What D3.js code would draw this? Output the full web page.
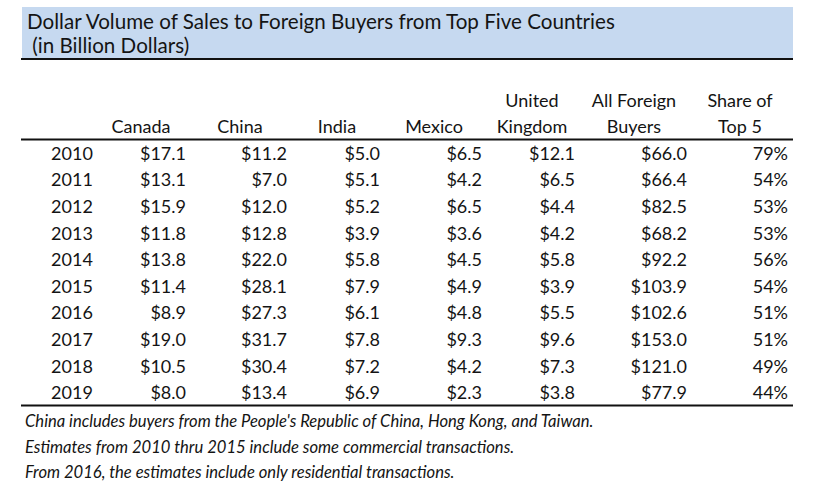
<!DOCTYPE html>
<html>
<head>
<meta charset="utf-8">
<script src="https://cdn.jsdelivr.net/npm/d3@7"></script>
<style>
  body { margin: 0; background: #fff; }
  svg { display: block; font-family: Lato, "Open Sans", sans-serif; }
</style>
</head>
<body>
<svg width="830" height="491"></svg>
<script>
// table data (billion dollars)
var years = [2010, 2011, 2012, 2013, 2014, 2015, 2016, 2017, 2018, 2019];
var canada = [17.1, 13.1, 15.9, 11.8, 13.8, 11.4, 8.9, 19.0, 10.5, 8.0];
var china = [11.2, 7.0, 12.0, 12.8, 22.0, 28.1, 27.3, 31.7, 30.4, 13.4];
var india = [5.0, 5.1, 5.2, 3.9, 5.8, 7.9, 6.1, 7.8, 7.2, 6.9];
var mexico = [6.5, 4.2, 6.5, 3.6, 4.5, 4.9, 4.8, 9.3, 4.2, 2.3];
var uk = [12.1, 6.5, 4.4, 4.2, 5.8, 3.9, 5.5, 9.6, 7.3, 3.8];
var allForeign = [66.0, 66.4, 82.5, 68.2, 92.2, 103.9, 102.6, 153.0, 121.0, 77.9];
var shareTop5 = [79, 54, 53, 53, 56, 54, 51, 51, 49, 44];

var headers = [
  ["Canada"], ["China"], ["India"], ["Mexico"],
  ["United", "Kingdom"], ["All Foreign", "Buyers"], ["Share of", "Top 5"]
];
var titleLines = ["Dollar Volume of Sales to Foreign Buyers from Top Five Countries", " (in Billion Dollars)"];
var notes = [
  "China includes buyers from the People's Republic of China, Hong Kong, and Taiwan.",
  "Estimates from 2010 thru 2015 include some commercial transactions.",
  "From 2016, the estimates include only residential transactions."
];

var svg = d3.select("svg");
var ink = "#141414";
var money = function(v) { return "$" + d3.format(".1f")(v); };

var columns = [canada, china, india, mexico, uk, allForeign];
// right edges of value columns and header centres
var colRight = [186, 287, 380, 482, 575, 687, 788];
var colCenter = [141, 240, 337, 434, 532, 634, 740];

var y = d3.scaleBand().domain(years).range([140, 406]);

// title band
svg.append("rect")
  .attr("x", 22).attr("y", 7).attr("width", 771).attr("height", 52)
  .attr("fill", "#c6d9f0");
svg.append("line")
  .attr("x1", 21).attr("x2", 793).attr("y1", 59).attr("y2", 59)
  .attr("stroke", "#111").attr("stroke-width", 2);
svg.selectAll("text.title")
  .data(titleLines)
  .enter().append("text")
    .attr("class", "title")
    .attr("x", 27)
    .attr("y", function(d, i) { return 29 + i * 24; })
    .attr("font-size", 20.6)
    .attr("fill", ink)
    .attr("xml:space", "preserve")
    .text(function(d) { return d; });

// column headers
headers.forEach(function(h, i) {
  h.forEach(function(line, j) {
    svg.append("text")
      .attr("x", colCenter[i])
      .attr("y", 133 - (h.length - 1 - j) * 26)
      .attr("text-anchor", "middle")
      .attr("font-size", 18)
      .attr("fill", ink)
      .text(line);
  });
});

svg.append("line")
  .attr("x1", 21).attr("x2", 793).attr("y1", 139.5).attr("y2", 139.5)
  .attr("stroke", "#111").attr("stroke-width", 2);

var rows = svg.selectAll("g.row")
  .data(years)
  .enter().append("g")
    .attr("class", "row")
    .attr("transform", function(d) { return "translate(0," + (y(d) + y.bandwidth() / 2 + 6.5) + ")"; });

rows.append("text")
  .attr("x", 72)
  .attr("text-anchor", "middle")
  .attr("font-size", 18)
  .attr("fill", ink)
  .text(function(d) { return d; });

columns.forEach(function(col, c) {
  rows.append("text")
    .attr("x", colRight[c])
    .attr("text-anchor", "end")
    .attr("font-size", 18)
    .attr("fill", ink)
    .text(function(d, i) { return money(col[i]); });
});

rows.append("text")
  .attr("x", colRight[6])
  .attr("text-anchor", "end")
  .attr("font-size", 18)
  .attr("fill", ink)
  .text(function(d, i) { return shareTop5[i] + "%"; });

svg.append("line")
  .attr("x1", 21).attr("x2", 793).attr("y1", 405.5).attr("y2", 405.5)
  .attr("stroke", "#111").attr("stroke-width", 2);

// footnotes
svg.selectAll("text.note")
  .data(notes)
  .enter().append("text")
    .attr("class", "note")
    .attr("x", 25)
    .attr("y", function(d, i) { return 427 + i * 25.5; })
    .attr("font-size", 16.6)
    .attr("font-style", "italic")
    .attr("fill", ink)
    .text(function(d) { return d; });
</script>
</body>
</html>
